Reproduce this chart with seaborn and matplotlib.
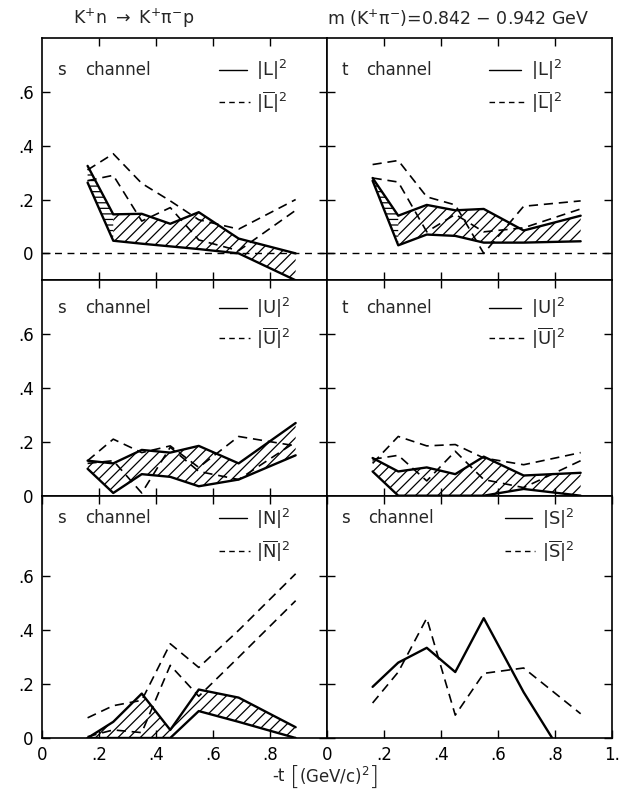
import matplotlib
matplotlib.use("Agg")
import matplotlib.pyplot as plt
import seaborn as sns

# ---------------- data ----------------
t = [0.16, 0.25, 0.35, 0.45, 0.55, 0.69, 0.89]

# s channel |L|^2 band (two solid lines) and |Lbar|^2 (two dashed lines)
L_s_hi = [0.325, 0.145, 0.147, 0.110, 0.153, 0.055, 0.000]
L_s_lo = [0.263, 0.047, 0.036, 0.026, 0.016, 0.000, -0.100]
L_s_dA = [0.310, 0.370, 0.260, 0.195, 0.125, 0.090, 0.200]
L_s_dB = [0.270, 0.290, 0.120, 0.170, 0.050, 0.010, 0.160]

# t channel |L|^2
L_t_hi = [0.280, 0.140, 0.180, 0.160, 0.165, 0.085, 0.140]
L_t_lo = [0.270, 0.030, 0.070, 0.065, 0.040, 0.040, 0.045]
L_t_dA = [0.330, 0.345, 0.210, 0.180, 0.000, 0.175, 0.195]
L_t_dB = [0.280, 0.265, 0.080, 0.145, 0.080, 0.095, 0.165]

# s channel |U|^2
U_s_hi = [0.130, 0.120, 0.170, 0.160, 0.185, 0.120, 0.270]
U_s_lo = [0.100, 0.010, 0.080, 0.070, 0.035, 0.060, 0.150]
U_s_dA = [0.130, 0.210, 0.160, 0.185, 0.105, 0.220, 0.185]
U_s_dB = [0.120, 0.130, 0.010, 0.180, 0.090, 0.060, 0.200]

# t channel |U|^2
U_t_hi = [0.140, 0.090, 0.105, 0.080, 0.145, 0.075, 0.085]
U_t_lo = [0.090, 0.000, 0.000, 0.000, 0.000, 0.025, 0.000]
U_t_dA = [0.120, 0.220, 0.185, 0.190, 0.140, 0.115, 0.160]
U_t_dB = [0.135, 0.150, 0.055, 0.165, 0.060, 0.030, 0.130]

# s channel |N|^2
N_s_hi = [0.000, 0.060, 0.165, 0.030, 0.180, 0.150, 0.040]
N_s_lo = [0.000, 0.000, 0.000, 0.000, 0.100, 0.060, 0.000]
N_s_dA = [0.075, 0.120, 0.140, 0.350, 0.262, 0.400, 0.610]
N_s_dB = [0.005, 0.030, 0.020, 0.270, 0.155, 0.300, 0.510]

# s channel |S|^2
S_s_solid = [0.190, 0.280, 0.335, 0.245, 0.445, 0.170, -0.170]
S_s_dash = [0.130, 0.245, 0.445, 0.085, 0.240, 0.260, 0.090]

y_ticks = [0.0, 0.2, 0.4, 0.6]
y_ticklabels = ["0", ".2", ".4", ".6"]
x_ticks_left = [0.0, 0.2, 0.4, 0.6, 0.8]
x_labels_left = ["0", ".2", ".4", ".6", ".8"]
x_ticks_right = [0.0, 0.2, 0.4, 0.6, 0.8, 1.0]
x_labels_right = ["0", ".2", ".4", ".6", ".8", "1."]

panels = [
    dict(ch="s", amp="L", hi=L_s_hi, lo=L_s_lo, dA=L_s_dA, dB=L_s_dB, ylim=(-0.1, 0.8), hz=True),
    dict(ch="t", amp="L", hi=L_t_hi, lo=L_t_lo, dA=L_t_dA, dB=L_t_dB, ylim=(-0.1, 0.8), hz=True),
    dict(ch="s", amp="U", hi=U_s_hi, lo=U_s_lo, dA=U_s_dA, dB=U_s_dB, ylim=(0.0, 0.8), hz=False),
    dict(ch="t", amp="U", hi=U_t_hi, lo=U_t_lo, dA=U_t_dA, dB=U_t_dB, ylim=(0.0, 0.8), hz=False),
    dict(ch="s", amp="N", hi=N_s_hi, lo=N_s_lo, dA=N_s_dA, dB=N_s_dB, ylim=(0.0, 0.9), hz=False),
    dict(ch="s", amp="S", solid=S_s_solid, dash=S_s_dash, ylim=(0.0, 0.9)),
]

# ---------------- style ----------------
sns.set_theme(style="ticks")
plt.rcParams["font.family"] = ["DejaVu Sans"]
plt.rcParams["mathtext.default"] = "regular"
plt.rcParams["hatch.linewidth"] = 0.9
plt.rcParams["axes.edgecolor"] = "black"

DASH = (0, (5.5, 3.5))
ZDASH = (0, (5.0, 4.0))
SOLID_LW = 1.7
DASH_LW = 1.2

fig = plt.figure(figsize=(6.24, 7.97), dpi=100)
gs = fig.add_gridspec(3, 2, left=42 / 624, right=612 / 624,
                      top=1 - 38 / 797, bottom=1 - 738 / 797,
                      wspace=0, hspace=0, height_ratios=[0.9, 0.8, 0.9])

# legend / label layout per row (axes fractions)
row_y = [(0.867, 0.734), (0.87, 0.73), (0.906, 0.77)]

for i, p in enumerate(panels):
    r, c = divmod(i, 2)
    ax = fig.add_subplot(gs[r, c])
    ax.set_facecolor("white")

    if "hi" in p:
        if p["hz"]:
            ax.fill_between(t[:2], p["lo"][:2], p["hi"][:2], facecolor="none",
                            edgecolor="black", hatch="---", linewidth=0)
            ax.fill_between(t[1:], p["lo"][1:], p["hi"][1:], facecolor="none",
                            edgecolor="black", hatch="///", linewidth=0)
        else:
            ax.fill_between(t, p["lo"], p["hi"], facecolor="none", edgecolor="black",
                            hatch="///", linewidth=0)
        for key in ("hi", "lo"):
            sns.lineplot(x=t, y=p[key], ax=ax, color="black", lw=SOLID_LW,
                         estimator=None, sort=False)
        for key in ("dA", "dB"):
            sns.lineplot(x=t, y=p[key], ax=ax, color="black", lw=DASH_LW,
                         linestyle=DASH, estimator=None, sort=False)
    else:
        sns.lineplot(x=t, y=p["solid"], ax=ax, color="black", lw=SOLID_LW,
                     estimator=None, sort=False)
        sns.lineplot(x=t, y=p["dash"], ax=ax, color="black", lw=DASH_LW,
                     linestyle=DASH, estimator=None, sort=False)

    if r == 0:
        ax.axhline(0, color="black", lw=1.0, linestyle=ZDASH)

    ax.set_xlim(0, 1)
    ax.set_ylim(*p["ylim"])
    ax.set_yticks(y_ticks)
    if c == 0:
        ax.set_yticklabels(y_ticklabels, fontsize=12)
    else:
        ax.set_yticklabels([])
    if r == 2:
        if c == 0:
            ax.set_xticks(x_ticks_left)
            ax.set_xticklabels(x_labels_left, fontsize=12)
        else:
            ax.set_xticks(x_ticks_right)
            ax.set_xticklabels(x_labels_right, fontsize=12)
    else:
        ax.set_xticks([0.2, 0.4, 0.6, 0.8])
        ax.set_xticklabels([])
    ax.tick_params(direction="in", top=True, right=True, length=6, width=1,
                   colors="black", pad=6)
    for s in ax.spines.values():
        s.set_visible(True)
        s.set_color("black")
        s.set_linewidth(1.2)
    ax.set_xlabel("")
    ax.set_ylabel("")

    # panel annotation
    y1, y2 = row_y[r]
    if c == 0:
        lx, cx, l0, l1, tx = 0.053, 0.151, 0.62, 0.72, 0.75
    else:
        lx, cx, l0, l1, tx = 0.05, 0.137, 0.57, 0.68, 0.715
        if r == 2:
            lx, cx, l0, l1, tx = 0.05, 0.145, 0.625, 0.72, 0.755
    tr = ax.transAxes
    ax.text(lx, y1, p["ch"], transform=tr, fontsize=12, ha="left", va="center")
    ax.text(cx, y1, "channel", transform=tr, fontsize=12, ha="left", va="center")
    ax.plot([l0, l1], [y1, y1], transform=tr, color="black", lw=1.0)
    ax.plot([l0, l1 + 0.01], [y2, y2], transform=tr, color="black", lw=1.0,
            linestyle=(0, (4, 3)))
    a = p["amp"]
    ax.text(tx, y1, r"$|%s|^{2}$" % a, transform=tr, fontsize=13, ha="left", va="center")
    ax.text(tx, y2, r"$|\overline{%s}|^{2}$" % a, transform=tr, fontsize=13,
            ha="left", va="center")

fig.text(73 / 624, 1 - 18 / 797, r"K$^{+}$n $\rightarrow$ K$^{+}\pi^{-}$p",
         fontsize=12.5, ha="left", va="center")
fig.text(327 / 624, 1 - 18 / 797, r"m (K$^{+}\pi^{-}$)=0.842 $-$ 0.942 GeV",
         fontsize=12.5, ha="left", va="center")

# x-axis label with large brackets: "-t [(GeV/c)^2]"
ylab = 1 - 776 / 797
fig.text(272 / 624, ylab, "-t", fontsize=12, ha="left", va="center")
fig.text(290 / 624, ylab - 0.002, "[", fontsize=19, ha="left", va="center", fontweight="light")
fig.text(299 / 624, ylab, r"(GeV/c)$^{2}$", fontsize=12, ha="left", va="center")
fig.text(369 / 624, ylab - 0.002, "]", fontsize=19, ha="left", va="center", fontweight="light")

fig.savefig("out.png", dpi=100, facecolor="white")
